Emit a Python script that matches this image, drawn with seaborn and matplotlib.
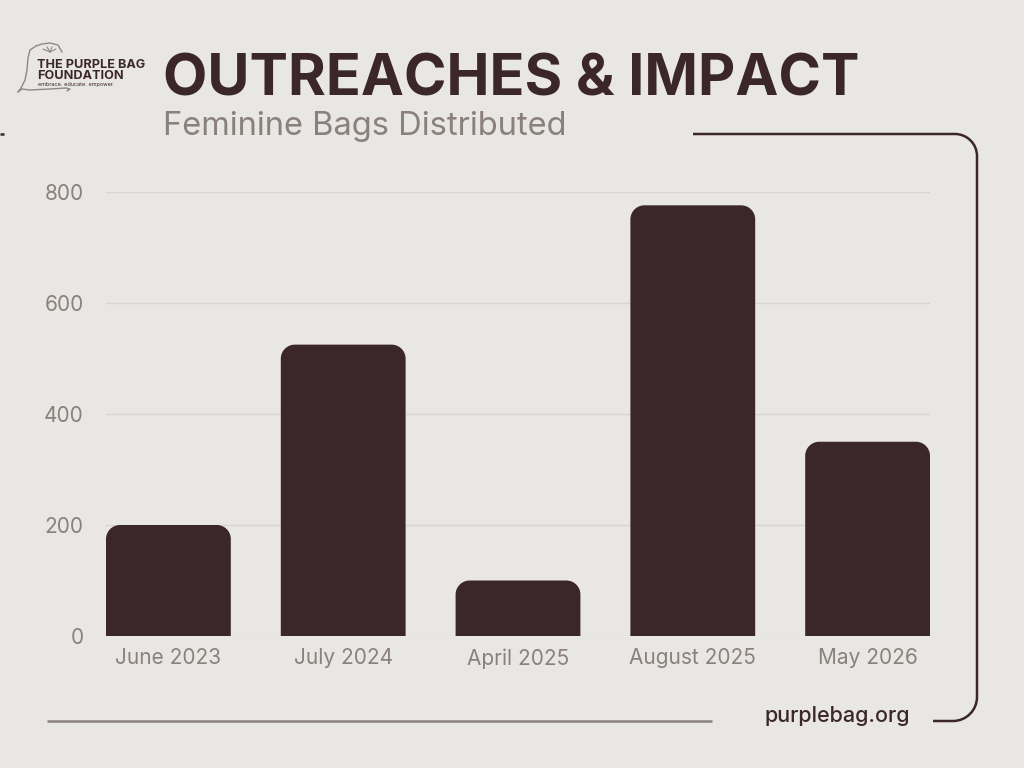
import numpy as np
import pandas as pd
import matplotlib
matplotlib.use("Agg")
import matplotlib.pyplot as plt
from matplotlib.path import Path
from matplotlib.patches import PathPatch
import seaborn as sns

# ---- data ----
categories = ["June 2023", "July 2024", "April 2025", "August 2025", "May 2026"]
bags = [200, 525, 100, 776, 350]
yticks = [0, 200, 400, 600, 800]

BG = "#e9e7e3"
DARK = "#3b272a"
GRAY = "#8a817e"
GRID = "#d8d5d1"

sns.set_theme(style="white")
plt.rcParams["font.family"] = ["Inter", "DejaVu Sans"]

fig = plt.figure(figsize=(10.24, 7.68), dpi=100, facecolor=BG)
ax = fig.add_axes([106/1024, 1-636/768, 824/1024, 444/768])
ax.set_facecolor(BG)

df = pd.DataFrame({"month": categories, "bags": bags})
sns.barplot(data=df, x="month", y="bags", color=DARK, width=0.714, saturation=1, ax=ax, zorder=3)

ax.set_xlim(-0.357, 4.357)
ax.set_ylim(0, 800)
ax.set_yticks(yticks)
ax.set_yticklabels([str(v) for v in yticks])
ax.set_xlabel("")
ax.set_ylabel("")
for s in ax.spines.values():
    s.set_visible(False)
ax.grid(axis="y", color=GRID, lw=1, zorder=0)
ax.grid(axis="x", visible=False)
ax.tick_params(axis="y", length=0, pad=16, labelsize=15, labelcolor=GRAY)
ax.tick_params(axis="x", length=0, pad=9, labelsize=15, labelcolor=GRAY)

# rounded-top bars
fig.canvas.draw()
p0 = ax.transData.transform((0, 0))
p1 = ax.transData.transform((1, 100))
pxx = p1[0] - p0[0]
pxy = (p1[1] - p0[1]) / 100.0
r = 14 * fig.dpi / 100
rx, ry = r / pxx, r / pxy
k = 0.5523
for bar in list(ax.patches):
    x0 = bar.get_x()
    w = bar.get_width()
    h = bar.get_height()
    x1 = x0 + w
    y1 = h
    verts = [(x0, 0), (x0, y1 - ry),
             (x0, y1 - ry + k*ry), (x0 + rx - k*rx, y1), (x0 + rx, y1),
             (x1 - rx, y1),
             (x1 - rx + k*rx, y1), (x1, y1 - ry + k*ry), (x1, y1 - ry),
             (x1, 0), (x0, 0)]
    codes = [Path.MOVETO, Path.LINETO,
             Path.CURVE4, Path.CURVE4, Path.CURVE4,
             Path.LINETO,
             Path.CURVE4, Path.CURVE4, Path.CURVE4,
             Path.LINETO, Path.CLOSEPOLY]
    bar.set_visible(False)
    ax.add_patch(PathPatch(Path(verts, codes), facecolor=DARK, edgecolor="none", zorder=3))

# ---- overlay in pixel coordinates ----
ov = fig.add_axes([0, 0, 1, 1])
ov.set_xlim(0, 1024)
ov.set_ylim(768, 0)
ov.axis("off")
ov.patch.set_alpha(0)

ov.text(163, 95, "OUTREACHES & IMPACT", fontsize=41.5, fontweight="bold", color=DARK,
        family=["Inter", "DejaVu Sans"], va="baseline", ha="left")
ov.text(163, 135, "Feminine Bags Distributed", fontsize=23.5, color=GRAY,
        family=["Inter", "DejaVu Sans"], va="baseline", ha="left")
ov.text(910, 722, "purplebag.org", fontsize=15.5, color=DARK, fontweight="medium",
        family=["Inter", "DejaVu Sans"], va="baseline", ha="right")

# frame
R1, R2 = 22, 24
fv = [(693, 134), (977 - R1, 134),
      (977 - R1 + k*R1, 134), (977, 134 + R1 - k*R1), (977, 134 + R1),
      (977, 721 - R2),
      (977, 721 - R2 + k*R2), (977 - R2 + k*R2, 721), (977 - R2, 721),
      (933, 721)]
fc = [Path.MOVETO, Path.LINETO, Path.CURVE4, Path.CURVE4, Path.CURVE4,
      Path.LINETO, Path.CURVE4, Path.CURVE4, Path.CURVE4, Path.LINETO]
ov.add_patch(PathPatch(Path(fv, fc), facecolor="none", edgecolor=DARK, lw=1.8))
ov.plot([0, 4], [134, 134], color=DARK, lw=1.8, solid_capstyle="butt")
ov.plot([47, 712], [721, 721], color=GRAY, lw=1.8, solid_capstyle="butt")

# logo
ov.text(37, 68, "THE PURPLE BAG", fontsize=9.1, fontweight="bold", color=DARK,
        family=["Inter", "DejaVu Sans"], va="baseline", ha="left")
ov.text(37, 79, "FOUNDATION", fontsize=9.1, fontweight="bold", color=DARK,
        family=["Inter", "DejaVu Sans"], va="baseline", ha="left")
ov.text(38, 86, "embrace. educate. empower.", fontsize=4.0, color=DARK,
        family=["Inter", "DejaVu Sans"], va="baseline", ha="left")
bag_x = [36, 30, 28, 27, 25, 21, 18]
bag_y = [46, 50, 58, 70, 80, 88, 92]
ov.plot(bag_x, bag_y, color="#8f8785", lw=1.0)
ov.plot([18, 22, 30, 50, 66, 70, 67], [92, 89, 90, 89, 88, 89, 91], color="#8f8785", lw=1.0)
ov.plot([36, 42, 50, 58, 62], [46, 44, 43, 45, 52], color="#8f8785", lw=1.0)
for dx, dy in [(-7, -3), (-3, -5), (2, -5), (6, -3)]:
    ov.plot([50, 50 + dx], [52, 52 + dy], color="#8f8785", lw=0.8)

fig.savefig("out.png", dpi=100, facecolor=BG)
